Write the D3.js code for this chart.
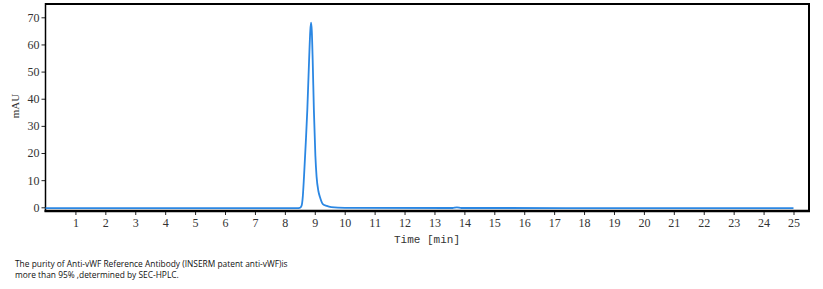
<!DOCTYPE html>
<html>
<head>
<meta charset="utf-8">
<script src="https://cdn.jsdelivr.net/npm/d3@7"></script>
<style>
  body { margin: 0; background: #fff; }
  svg { display: block; }
</style>
</head>
<body>
<svg id="chart"></svg>
<script>
const width = 823;
const height = 289;

// chromatogram
const times  = [0, 8.4, 8.5, 8.56, 8.6, 8.64, 8.7, 8.75, 8.81, 8.85, 8.875, 8.9, 8.93, 8.97, 9.02, 9.06, 9.12, 9.17, 9.27, 9.4, 9.55, 10.0, 13.6, 13.75, 13.9, 25];
const signal = [-0.3, -0.3, -0.2, 0.6, 4, 11.3, 24, 35.8, 54.3, 65, 68, 65, 54.3, 35.8, 19, 11.3, 6, 3.9, 1.2, 0.5, 0.1, -0.2, -0.25, -0.05, -0.25, -0.3];
const xTicks = d3.range(1, 26);
const yTicks = [0, 10, 20, 30, 40, 50, 60, 70];
const caption = [
    'The purity of Anti-vWF Reference Antibody (INSERM patent anti-vWF)is',
    'more than 95% ,determined by SEC-HPLC.'
];

const data = times.map((t, i) => ({ t: t, v: signal[i] }));

const plot = { left: 45.5, right: 809, top: 4, bottom: 211 };

const x = d3.scaleLinear().domain([0, 25]).range([plot.left, 793.5]);
const y = d3.scaleLinear().domain([0, 70]).range([207.3, 17.3]);

const svg = d3.select('#chart')
    .attr('width', width)
    .attr('height', height);

// frame
svg.append('line')
    .attr('x1', plot.left).attr('x2', plot.right + 1)
    .attr('y1', plot.top).attr('y2', plot.top)
    .attr('stroke', '#000').attr('stroke-width', 2);
svg.append('line')
    .attr('x1', plot.right).attr('x2', plot.right)
    .attr('y1', plot.top).attr('y2', plot.bottom)
    .attr('stroke', '#000').attr('stroke-width', 2);

const xAxis = svg.append('g')
    .attr('transform', `translate(0, ${plot.bottom})`)
    .call(d3.axisBottom(x).tickValues(xTicks).tickSize(4).tickPadding(3).tickSizeOuter(0));
xAxis.select('.domain').remove();

const yAxis = svg.append('g')
    .attr('transform', `translate(${plot.left}, 0)`)
    .call(d3.axisLeft(y).tickValues(yTicks).tickSize(4).tickPadding(2).tickSizeOuter(0));
yAxis.select('.domain').remove();

svg.selectAll('.tick line').attr('stroke', '#222');
svg.selectAll('.tick text')
    .attr('font-family', '"Liberation Serif", "DejaVu Serif", serif')
    .attr('font-size', 12)
    .attr('fill', '#333');

svg.append('line')
    .attr('x1', plot.left).attr('x2', plot.left)
    .attr('y1', plot.top - 1).attr('y2', plot.bottom + 1)
    .attr('stroke', '#000').attr('stroke-width', 1.5);
svg.append('line')
    .attr('x1', plot.left - 1).attr('x2', plot.right + 1)
    .attr('y1', plot.bottom).attr('y2', plot.bottom)
    .attr('stroke', '#000').attr('stroke-width', 2.5);

// trace
const line = d3.line()
    .x(d => x(d.t))
    .y(d => y(d.v))
    .curve(d3.curveMonotoneX);

svg.append('path')
    .datum(data)
    .attr('d', line)
    .attr('fill', 'none')
    .attr('stroke', '#2b87e3')
    .attr('stroke-width', 1.8);

// axis titles
svg.append('text')
    .attr('transform', 'translate(19, 106) rotate(-90)')
    .attr('text-anchor', 'middle')
    .style('font-family', '"Liberation Serif", serif')
    .style('font-size', '11px')
    .style('fill', '#333')
    .text('mAU');

svg.append('text')
    .attr('x', 427)
    .attr('y', 243)
    .attr('text-anchor', 'middle')
    .style('font-family', '"Liberation Mono", "DejaVu Sans Mono", monospace')
    .style('font-size', '11px')
    .style('fill', '#333')
    .text('Time [min]');

// caption
svg.selectAll('.caption')
    .data(caption)
    .enter().append('text')
    .attr('class', 'caption')
    .attr('x', 15)
    .attr('y', (d, i) => 267 + i * 10.5)
    .style('font-family', '"Open Sans", sans-serif')
    .style('font-size', '8.4px')
    .style('fill', '#111')
    .text(d => d);
</script>
</body>
</html>
